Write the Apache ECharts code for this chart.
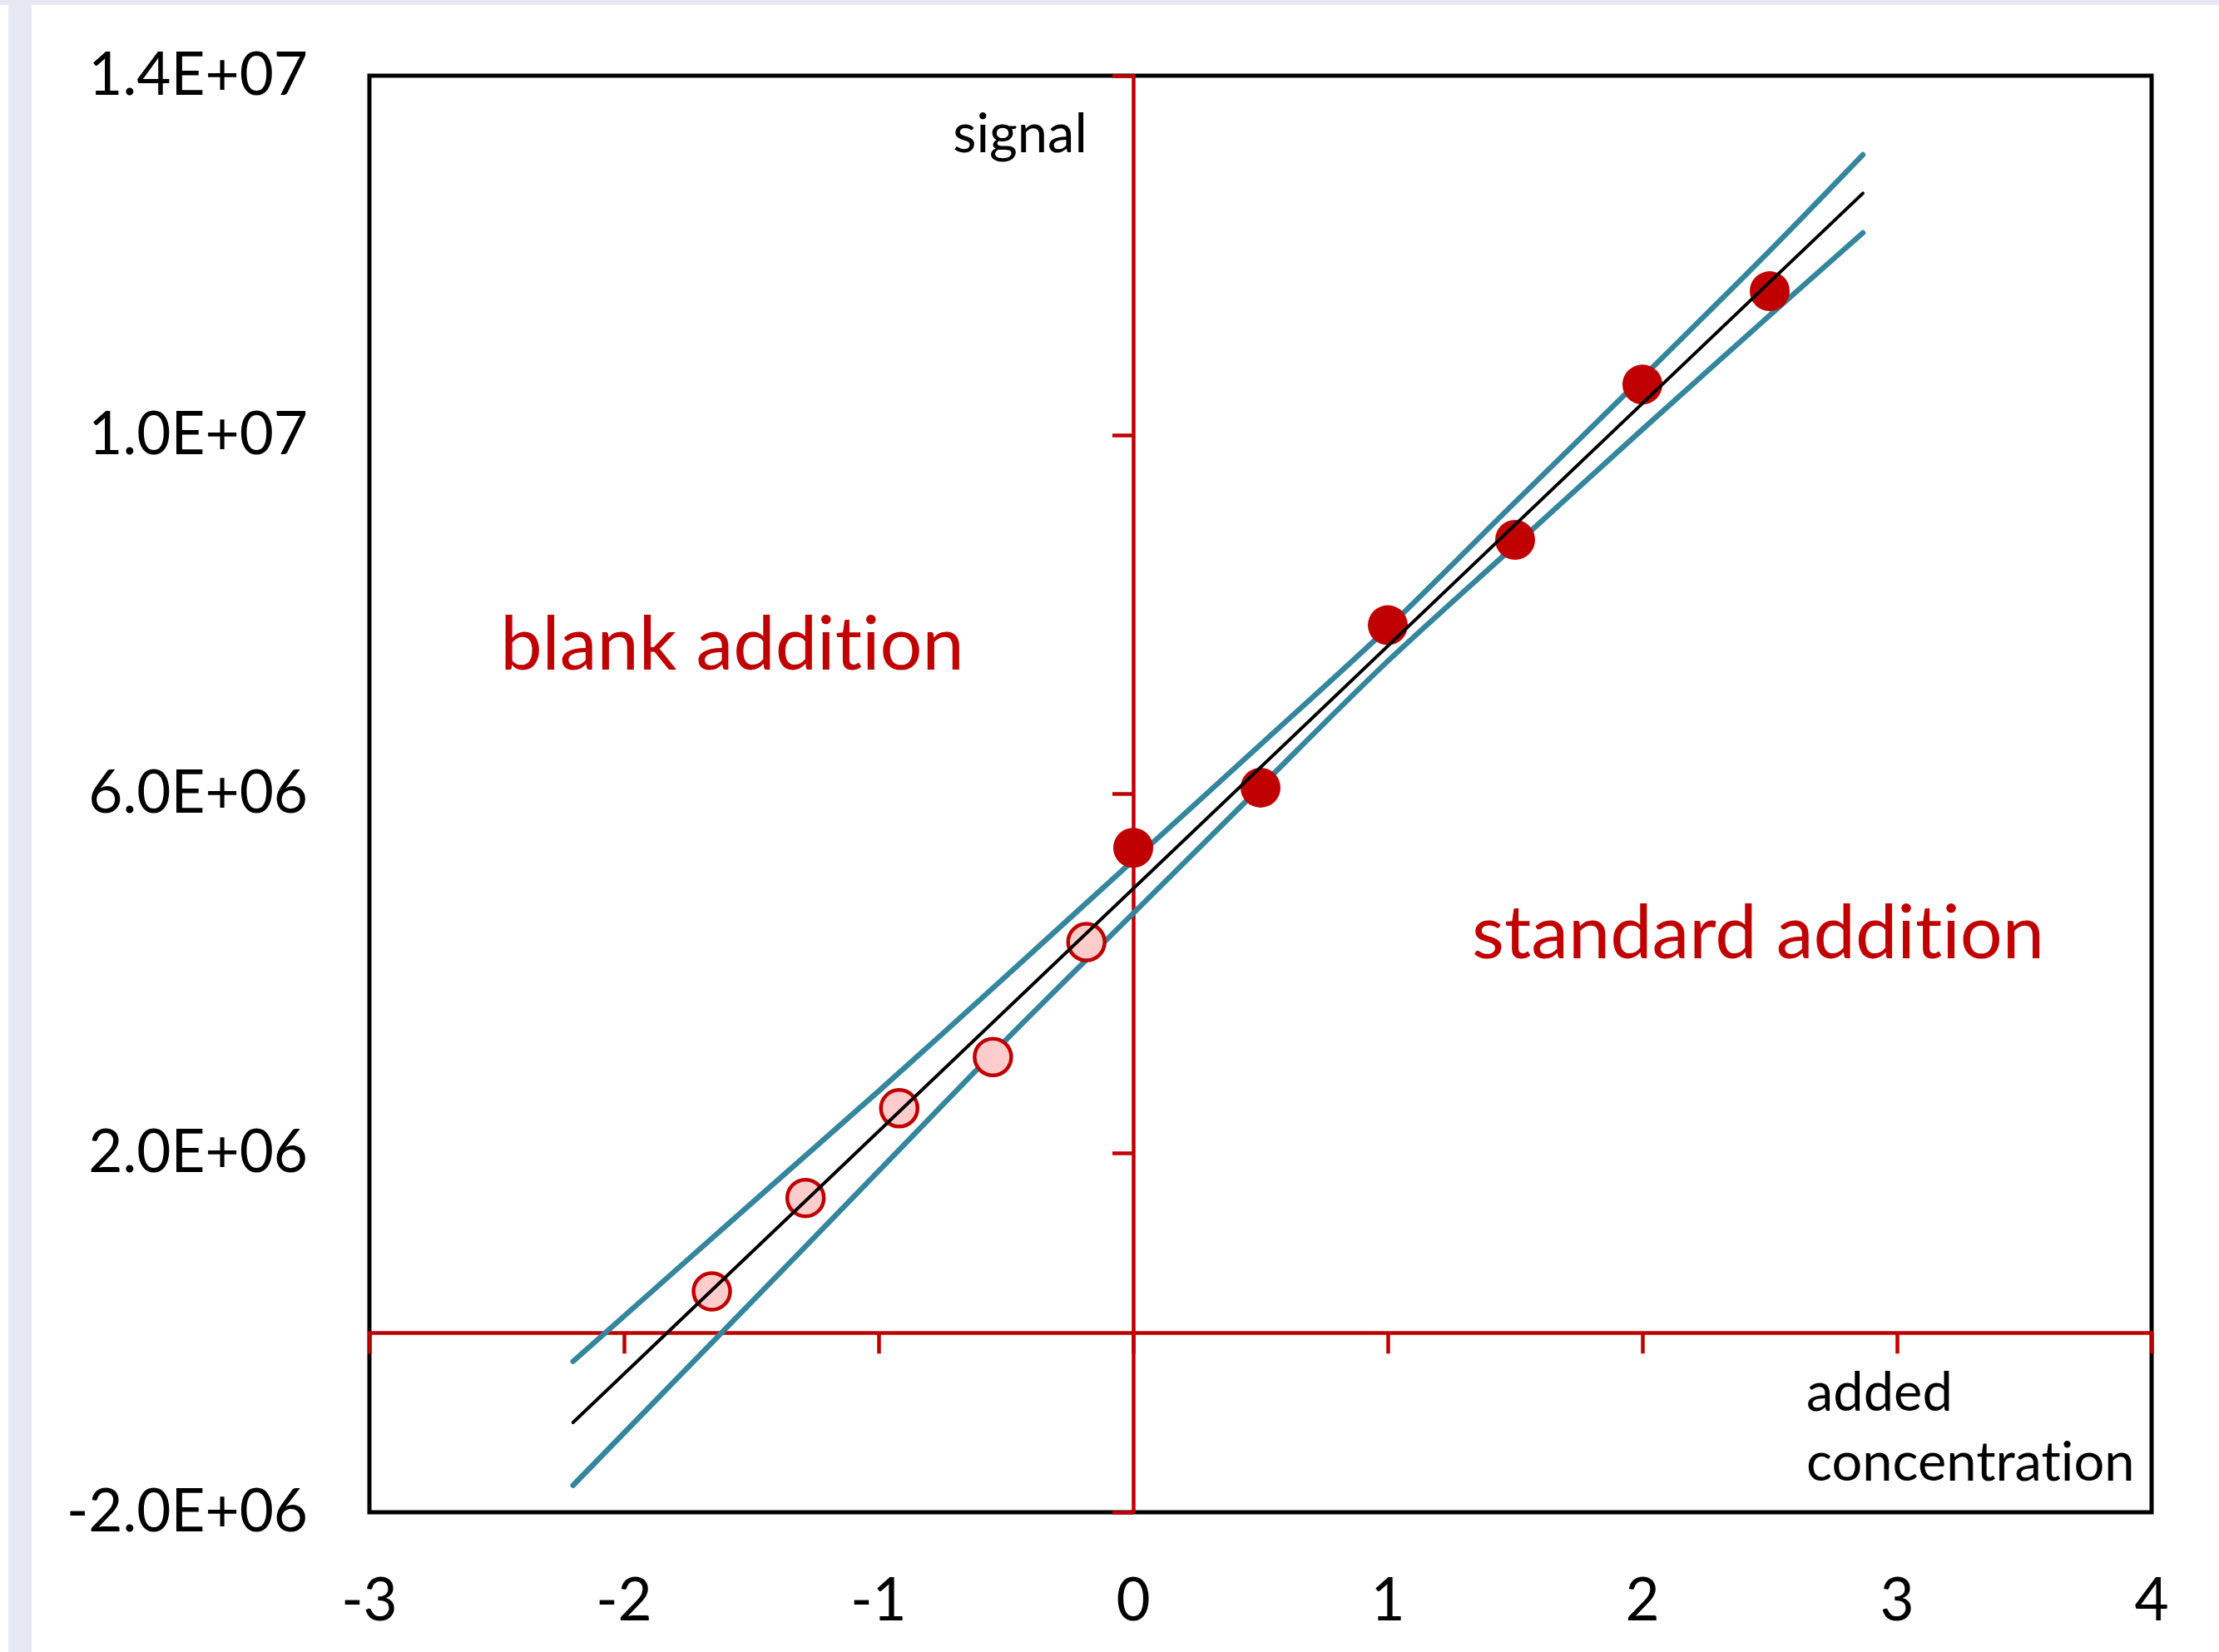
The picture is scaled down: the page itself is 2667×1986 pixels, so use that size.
<!DOCTYPE html>
<html>
<head>
<meta charset="utf-8">
<script src="https://cdn.jsdelivr.net/npm/echarts@6/dist/echarts.min.js"></script>
<style>
html,body{margin:0;padding:0;background:#fff;}
#chart{width:2667px;height:1986px;}
</style>
</head>
<body>
<div id="chart"></div>
<script>
// ---- data ----
const stdX = [0, 0.5, 1, 1.5, 2, 2.5];
const stdY = [5.40e6, 6.07e6, 7.88e6, 8.83e6, 10.56e6, 11.60e6];
const blankX = [-1.655, -1.287, -0.919, -0.551, -0.184];
const blankY = [0.46e6, 1.50e6, 2.50e6, 3.07e6, 4.35e6];
const fitX = [-2.2, 2.866];
const fitY = [-1.00e6, 12.69e6];
const bandX = [-2.2, -1.5, -1, -0.5, 0, 0.5, 1, 1.5, 2, 2.5, 2.866];
const bandUpper = [-0.32e6, 1.44e6, 2.69e6, 3.97e6, 5.26e6, 6.55e6, 7.85e6, 9.25e6, 10.64e6, 12.05e6, 13.12e6];
const bandLower = [-1.70e6, 0.34e6, 1.80e6, 3.26e6, 4.67e6, 6.08e6, 7.48e6, 8.77e6, 10.06e6, 11.33e6, 12.25e6];
const xTicks = [-3, -2, -1, 0, 1, 2, 3, 4];
const xTickLabels = ['-3', '-2', '-1', '0', '1', '2', '3', '4'];
const yTicks = [-2e6, 2e6, 6e6, 1e7, 1.4e7];
const yTickLabels = ['-2.0E+06', '2.0E+06', '6.0E+06', '1.0E+07', '1.4E+07'];

const zip = (a, b) => a.map((v, i) => [v, b[i]]);
const FONT = 'Lato';
const RED = '#C00000';
const TEAL = '#34869C';
const NL = '\u200C'; // zero-width non-joiner: avoids the "ti" ligature of the font

const chart = echarts.init(document.getElementById('chart'), null, {renderer: 'canvas'});
const option = {
  backgroundColor: '#ffffff',
  animation: false,
  grid: {
    left: 444, right: 81, top: 91, bottom: 168,
    containLabel: false,
    show: true, borderColor: '#000000', borderWidth: 5, backgroundColor: 'transparent'
  },
  xAxis: [
    { // red axis on y = 0
      type: 'value', min: xTicks[0], max: xTicks[xTicks.length - 1], interval: 1,
      position: 'bottom',
      axisLine: {show: true, onZero: true, lineStyle: {color: RED, width: 4.5}},
      axisTick: {show: true, inside: false, length: 25, lineStyle: {color: RED, width: 4.5}},
      axisLabel: {show: false},
      splitLine: {show: false}
    },
    { // tick labels at the bottom
      type: 'value', min: xTicks[0], max: xTicks[xTicks.length - 1], interval: 1,
      position: 'bottom',
      axisLine: {show: false, onZero: false},
      axisTick: {show: false},
      splitLine: {show: false},
      axisLabel: {
        show: true, margin: 72, color: '#000', fontFamily: FONT, fontSize: 71,
        formatter: v => { const i = xTicks.indexOf(Math.round(v)); return i >= 0 ? xTickLabels[i] : ''; }
      }
    }
  ],
  yAxis: [
    { // red axis on x = 0
      type: 'value', min: yTicks[0], max: yTicks[yTicks.length - 1], interval: 4e6,
      position: 'left',
      axisLine: {show: true, onZero: true, lineStyle: {color: RED, width: 4.5}},
      axisTick: {show: true, inside: false, length: 25, lineStyle: {color: RED, width: 4.5}},
      axisLabel: {show: false},
      splitLine: {show: false}
    },
    { // tick labels at the left
      type: 'value', min: yTicks[0], max: yTicks[yTicks.length - 1], interval: 4e6,
      position: 'left',
      axisLine: {show: false, onZero: false},
      axisTick: {show: false},
      splitLine: {show: false},
      axisLabel: {
        show: true, margin: 74, color: '#000', fontFamily: FONT, fontSize: 71,
        formatter: v => {
          const i = yTicks.findIndex(t => Math.abs(t - v) < 1);
          return i >= 0 ? yTickLabels[i] : '';
        }
      }
    }
  ],
  series: [
    {
      name: 'upper band', type: 'line', data: zip(bandX, bandUpper),
      xAxisIndex: 0, yAxisIndex: 0, showSymbol: false, symbol: 'none', smooth: 0.3,
      lineStyle: {color: TEAL, width: 6.5, cap: 'round'}, z: 3, silent: true
    },
    {
      name: 'lower band', type: 'line', data: zip(bandX, bandLower),
      xAxisIndex: 0, yAxisIndex: 0, showSymbol: false, symbol: 'none', smooth: 0.3,
      lineStyle: {color: TEAL, width: 6.5, cap: 'round'}, z: 3, silent: true
    },
    {
      name: 'blank addition', type: 'scatter', data: zip(blankX, blankY),
      xAxisIndex: 0, yAxisIndex: 0, symbol: 'circle', symbolSize: 44,
      itemStyle: {color: '#FFCCCC', borderColor: RED, borderWidth: 4.5, opacity: 1}, z: 4
    },
    {
      name: 'standard addition', type: 'scatter', data: zip(stdX, stdY),
      xAxisIndex: 0, yAxisIndex: 0, symbol: 'circle', symbolSize: 48,
      itemStyle: {color: RED, opacity: 1}, z: 4
    },
    {
      name: 'fit', type: 'line', data: zip(fitX, fitY),
      xAxisIndex: 0, yAxisIndex: 0, showSymbol: false, symbol: 'none',
      lineStyle: {color: '#000000', width: 4, cap: 'round'}, z: 5, silent: true
    }
  ],
  graphic: [
    {type: 'rect', shape: {x: 0, y: 0, width: 2667, height: 6}, style: {fill: '#E8E8F5'}, z: -10},
    {type: 'rect', shape: {x: 10, y: 0, width: 28, height: 1986}, style: {fill: '#E8E8F5'}, z: -10},
    {type: 'text', x: 1226, y: 162, z: 10,
     style: {text: 'signal', fontFamily: FONT, fontSize: 65, fill: '#000', align: 'center', verticalAlign: 'middle'}},
    {type: 'text', x: 880, y: 776, z: 10,
     style: {text: 'blank addit' + NL + 'ion', fontFamily: FONT, fontSize: 90, fill: RED, align: 'center', verticalAlign: 'middle'}},
    {type: 'text', x: 2113, y: 1123, z: 10,
     style: {text: 'standard addit' + NL + 'ion', fontFamily: FONT, fontSize: 90, fill: RED, align: 'center', verticalAlign: 'middle'}},
    {type: 'text', x: 2171, y: 1675, z: 10,
     style: {text: 'added', fontFamily: FONT, fontSize: 65, fill: '#000', align: 'left', verticalAlign: 'middle'}},
    {type: 'text', x: 2171, y: 1759, z: 10,
     style: {text: 'concentrat' + NL + 'ion', fontFamily: FONT, fontSize: 65, fill: '#000', align: 'left', verticalAlign: 'middle'}}
  ]
};
chart.setOption(option);
</script>
</body>
</html>
